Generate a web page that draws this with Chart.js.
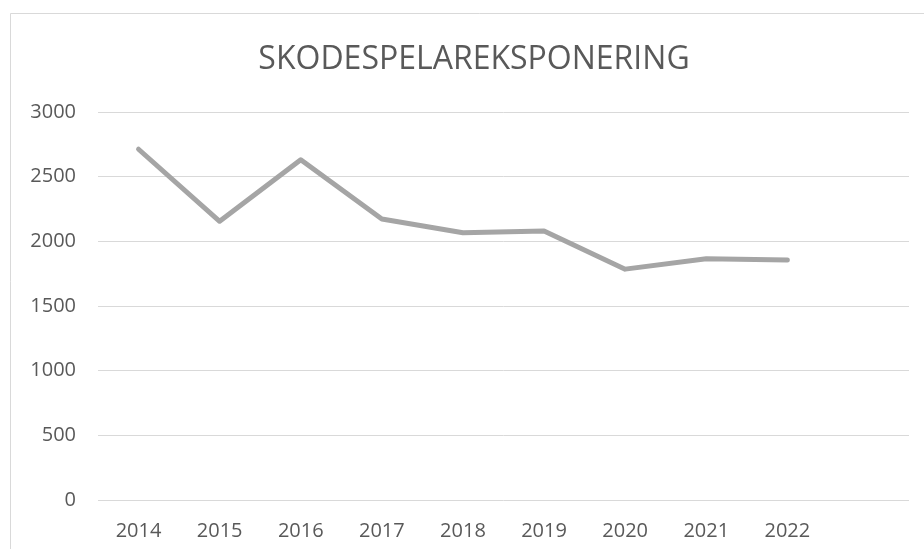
<!DOCTYPE html>
<html>
<head>
<meta charset="utf-8">
<script src="https://cdn.jsdelivr.net/npm/chart.js@4"></script>
<style>
  html, body { margin: 0; padding: 0; background: #fff; overflow: hidden; }
  #wrap { position: absolute; left: 0; top: 0; width: 924px; height: 549px; overflow: hidden; }
</style>
</head>
<body>
<div id="wrap"><canvas id="chart" width="948" height="549"></canvas></div>
<script>
// data
const years = ['2014', '2015', '2016', '2017', '2018', '2019', '2020', '2021', '2022', ''];
const exposure = [2712, 2155, 2630, 2172, 2066, 2080, 1785, 1866, 1855];
const yTicks = [0, 500, 1000, 1500, 2000, 2500, 3000];

const textColor = '#595959';
const fontFamily = "'Open Sans', 'Liberation Sans', sans-serif";

// light frame round the chart, like the spreadsheet chart box
const frame = {
    id: 'frame',
    beforeDraw(chart) {
        const ctx = chart.ctx;
        ctx.save();
        ctx.fillStyle = '#fff';
        ctx.fillRect(0, 0, chart.width, chart.height);
        ctx.strokeStyle = '#d9d9d9';
        ctx.lineWidth = 1;
        ctx.beginPath();
        ctx.moveTo(10.5, chart.height);
        ctx.lineTo(10.5, 13.5);
        ctx.lineTo(chart.width, 13.5);
        ctx.stroke();
        ctx.restore();
    }
};

new Chart(document.getElementById('chart'), {
    type: 'line',
    data: {
        labels: years,
        datasets: [{
            label: 'Skodespelareksponering',
            data: exposure,
            borderColor: '#a5a5a5',
            borderWidth: 5,
            borderCapStyle: 'round',
            borderJoinStyle: 'round',
            pointRadius: 0,
            tension: 0,
            fill: false
        }]
    },
    options: {
        responsive: false,
        animation: false,
        layout: { padding: 0 },
        plugins: {
            legend: { display: false },
            tooltip: { enabled: false },
            title: {
                display: true,
                text: 'SKODESPELAREKSPONERING',
                color: textColor,
                font: { family: fontFamily, size: 32, weight: 'normal', lineHeight: 1.2 },
                padding: { top: 41, bottom: 32.6 }
            }
        },
        scales: {
            x: {
                type: 'category',
                offset: true,
                grid: { display: false, drawTicks: false },
                border: { display: false },
                ticks: {
                    color: textColor,
                    font: { family: fontFamily, size: 20 },
                    padding: 19,
                    maxRotation: 0,
                    autoSkip: false
                },
                afterFit(scale) { scale.height = 49; }
            },
            y: {
                min: 0,
                max: 3000,
                afterBuildTicks(scale) { scale.ticks = yTicks.map(v => ({ value: v })); },
                grid: { color: '#d9d9d9', lineWidth: 1, drawTicks: false },
                border: { display: false },
                ticks: {
                    color: textColor,
                    font: { family: fontFamily, size: 20 },
                    padding: 22,
                    callback: v => String(v)
                },
                afterFit(scale) { scale.width = 98; }
            },
            // empty right-hand strip so the plot ends where the reference does
            yRight: {
                position: 'right',
                display: true,
                min: 0,
                max: 3000,
                grid: { display: false, drawTicks: false },
                border: { display: false },
                ticks: { display: false },
                afterFit(scale) { scale.width = 39; }
            }
        }
    },
    plugins: [frame]
});
</script>
</body>
</html>
